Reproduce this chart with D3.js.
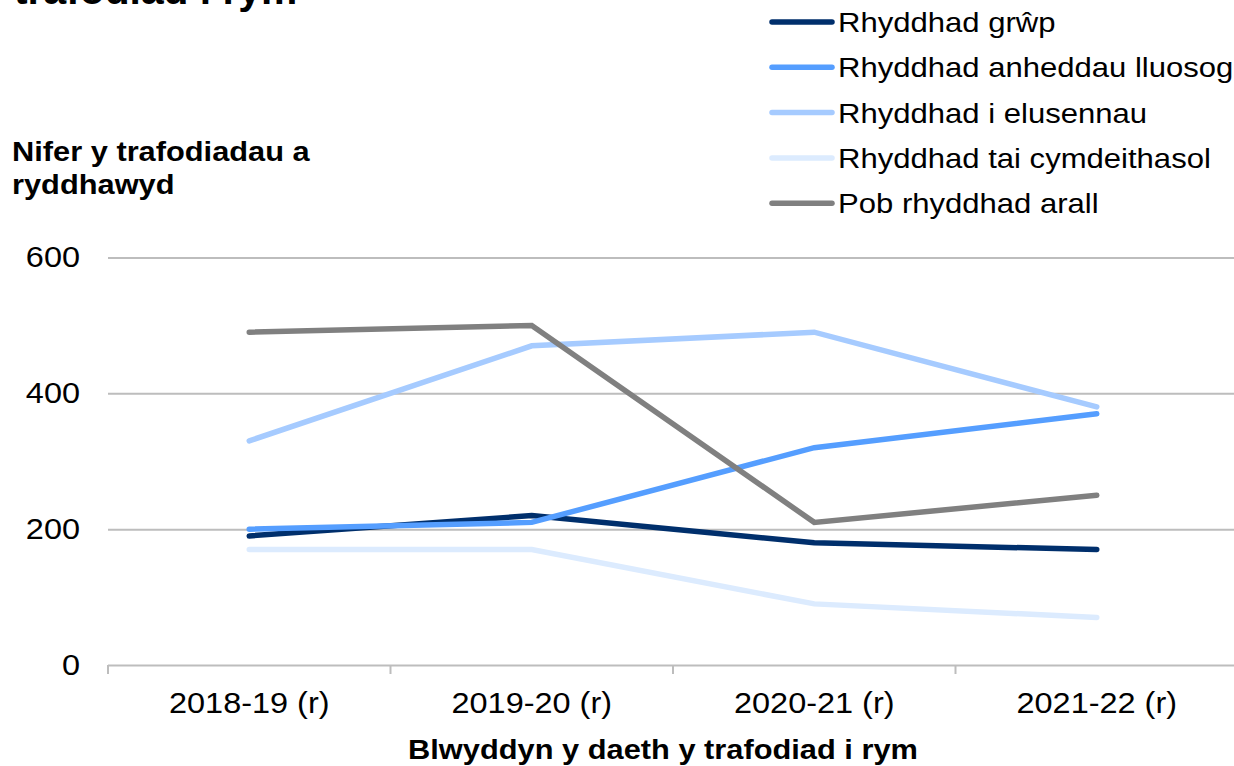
<!DOCTYPE html>
<html>
<head>
<meta charset="utf-8">
<script src="https://cdn.jsdelivr.net/npm/d3@7"></script>
<style>
	body { margin: 0; background: #fff; }
	svg { display: block; font-family: "Liberation Sans", Arial, sans-serif; }
</style>
</head>
<body>
<div id="chart"></div>
<script>
const years = ["2018-19 (r)", "2019-20 (r)", "2020-21 (r)", "2021-22 (r)"];
const seriesNames = [
	"Rhyddhad grŵp",
	"Rhyddhad anheddau lluosog",
	"Rhyddhad i elusennau",
	"Rhyddhad tai cymdeithasol",
	"Pob rhyddhad arall"
];
const grwp = [190, 220, 180, 170];
const anheddau = [200, 210, 320, 370];
const elusennau = [330, 470, 490, 380];
const taiCymdeithasol = [170, 170, 90, 70];
const arall = [490, 500, 210, 250];
const yTicks = [0, 200, 400, 600];
const colors = ["#002f6c", "#559eff", "#a6cbff", "#dcebfe", "#808080"];

const series = [grwp, anheddau, elusennau, taiCymdeithasol, arall]
	.map((values, i) => ({ name: seriesNames[i], color: colors[i], values }));

const width = 1234,
		height = 766;

// the source text is a little wider than Liberation Sans
const wide = 1.12;

const svg = d3.select("#chart")
	.append("svg")
		.attr("width", width)
		.attr("height", height);

// Scales

const x = d3.scaleBand()
	.domain(years)
	.range([108, 1238]);

const y = d3.scaleLinear()
	.domain([0, 600])
	.range([665, 257.5]);

const cx = (d) => x(d) + x.bandwidth() / 2;

// Title (cut at top of the picture)

svg.append("text")
	.attr("transform", `translate(14,4) scale(1.02,1)`)
	.attr("font-size", 40)
	.attr("font-weight", "bold")
	.text("trafodiad i rym");

// Gridlines and axes

const yAxis = svg.append("g")
	.attr("transform", "translate(108,0)")
	.call(d3.axisLeft(y).tickValues(yTicks).tickSize(-1126).tickPadding(28 / wide));

yAxis.select(".domain").remove();
yAxis.selectAll(".tick line")
	.attr("stroke", "#bdbdbd")
	.attr("stroke-width", 2);
yAxis.selectAll(".tick text")
	.attr("font-size", 29)
	.attr("fill", "#000")
	.attr("transform", `scale(${wide},1)`);

const xAxis = svg.append("g")
	.attr("transform", `translate(0,${y(0)})`)
	.call(d3.axisBottom(x).tickSize(0).tickPadding(27));

xAxis.select(".domain").remove();
xAxis.selectAll(".tick text")
	.attr("font-size", 29)
	.attr("fill", "#000")
	.attr("transform", `scale(${wide},1)`);

// category boundary ticks
svg.append("g")
	.selectAll("line")
		.data(years)
		.enter()
		.append("line")
			.attr("x1", (d) => x(d))
			.attr("x2", (d) => x(d))
			.attr("y1", y(0))
			.attr("y2", y(0) + 9)
			.attr("stroke", "#bdbdbd")
			.attr("stroke-width", 2);

// Lines

const line = d3.line()
	.x((d, i) => cx(years[i]))
	.y((d) => y(d));

svg.append("g")
	.selectAll("path")
		.data(series)
		.enter()
		.append("path")
			.attr("d", (d) => line(d.values))
			.attr("fill", "none")
			.attr("stroke", (d) => d.color)
			.attr("stroke-width", 5.5)
			.attr("stroke-linecap", "round");

// Axis titles

svg.append("text")
	.attr("transform", `translate(12,161) scale(${wide},1)`)
	.attr("font-size", 27.5)
	.attr("font-weight", "bold")
	.selectAll("tspan")
		.data(["Nifer y trafodiadau a", "ryddhawyd"])
		.enter()
		.append("tspan")
			.attr("x", 0)
			.attr("y", (d, i) => i * 33)
			.text((d) => d);

svg.append("text")
	.attr("transform", `translate(663,759) scale(${wide},1)`)
	.attr("text-anchor", "middle")
	.attr("font-size", 27.5)
	.attr("font-weight", "bold")
	.text("Blwyddyn y daeth y trafodiad i rym");

// Legend

const legend = svg.append("g")
	.selectAll("g")
		.data(series)
		.enter()
		.append("g")
			.attr("transform", (d, i) => `translate(770,${22 + i * 45.3})`);

legend.append("line")
	.attr("x1", 2)
	.attr("x2", 62)
	.attr("stroke", (d) => d.color)
	.attr("stroke-width", 5.5)
	.attr("stroke-linecap", "round");

legend.append("text")
	.attr("transform", `translate(68,10) scale(1.09,1)`)
	.attr("font-size", 28.5)
	.text((d) => d.name);
</script>
</body>
</html>
